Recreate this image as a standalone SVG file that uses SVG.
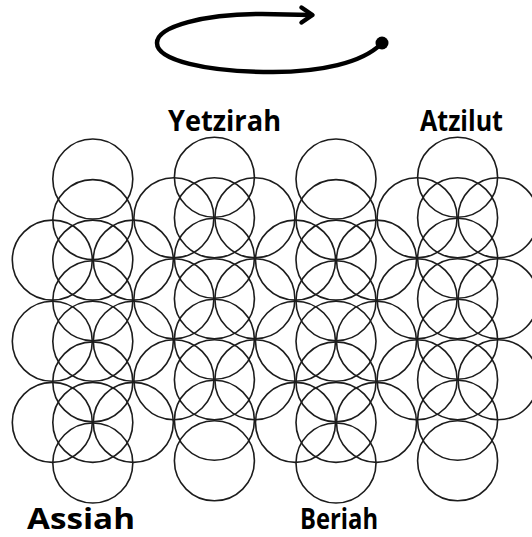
<svg xmlns="http://www.w3.org/2000/svg" width="532" height="537" viewBox="0 0 532 537">
<style>
.c{fill:none;stroke:#1c1c1c;stroke-width:1.6}
.lbl{font-family:"Open Sans","Liberation Sans",sans-serif;font-weight:bold;font-size:28px;fill:#000}
.rot{fill:none;stroke:#000;stroke-width:4.5;stroke-linecap:round;stroke-linejoin:round}
</style>
<rect width="532" height="537" fill="#fff"/>
<g id="rotation">
<path class="rot" d="M381,44 C362,63 320,72 273,72 C205,72 157,60 157,43 C157,26 205,14 262,14 L311,15"/>
<polyline class="rot" points="301.5,7.5 312.5,15 301.5,22.5"/>
<circle cx="382" cy="43" r="6.5" fill="#000"/>
</g>
<g id="assiah">
<circle class="c" cx="92.8" cy="179" r="40"/>
<circle class="c" cx="92.8" cy="219.6" r="40"/>
<circle class="c" cx="92.8" cy="260.1" r="40"/>
<circle class="c" cx="92.8" cy="300.7" r="40"/>
<circle class="c" cx="92.8" cy="341.3" r="40"/>
<circle class="c" cx="92.8" cy="381.9" r="40"/>
<circle class="c" cx="92.8" cy="422.4" r="40"/>
<circle class="c" cx="92.8" cy="463" r="40"/>
<circle class="c" cx="52.3" cy="260.1" r="40"/>
<circle class="c" cx="52.3" cy="341.3" r="40"/>
<circle class="c" cx="52.3" cy="422.4" r="40"/>
<circle class="c" cx="133.3" cy="260.1" r="40"/>
<circle class="c" cx="133.3" cy="341.3" r="40"/>
<circle class="c" cx="133.3" cy="422.4" r="40"/>
<text class="lbl" x="27" y="529" textLength="108" lengthAdjust="spacingAndGlyphs">Assiah</text>
</g>
<g id="yetzirah">
<circle class="c" cx="214.4" cy="177.2" r="40"/>
<circle class="c" cx="214.4" cy="217.7" r="40"/>
<circle class="c" cx="214.4" cy="258.2" r="40"/>
<circle class="c" cx="214.4" cy="298.7" r="40"/>
<circle class="c" cx="214.4" cy="339.2" r="40"/>
<circle class="c" cx="214.4" cy="379.7" r="40"/>
<circle class="c" cx="214.4" cy="420.2" r="40"/>
<circle class="c" cx="214.4" cy="460.8" r="40"/>
<circle class="c" cx="173.9" cy="217.7" r="40"/>
<circle class="c" cx="173.9" cy="298.7" r="40"/>
<circle class="c" cx="173.9" cy="379.7" r="40"/>
<circle class="c" cx="254.9" cy="217.7" r="40"/>
<circle class="c" cx="254.9" cy="298.7" r="40"/>
<circle class="c" cx="254.9" cy="379.7" r="40"/>
<text class="lbl" x="168" y="131" textLength="113" lengthAdjust="spacingAndGlyphs">Yetzirah</text>
</g>
<g id="beriah">
<circle class="c" cx="336" cy="179" r="40"/>
<circle class="c" cx="336" cy="219.6" r="40"/>
<circle class="c" cx="336" cy="260.1" r="40"/>
<circle class="c" cx="336" cy="300.7" r="40"/>
<circle class="c" cx="336" cy="341.3" r="40"/>
<circle class="c" cx="336" cy="381.9" r="40"/>
<circle class="c" cx="336" cy="422.4" r="40"/>
<circle class="c" cx="336" cy="463" r="40"/>
<circle class="c" cx="295.5" cy="260.1" r="40"/>
<circle class="c" cx="295.5" cy="341.3" r="40"/>
<circle class="c" cx="295.5" cy="422.4" r="40"/>
<circle class="c" cx="376.5" cy="260.1" r="40"/>
<circle class="c" cx="376.5" cy="341.3" r="40"/>
<circle class="c" cx="376.5" cy="422.4" r="40"/>
<text class="lbl" x="300" y="529" textLength="78" lengthAdjust="spacingAndGlyphs">Beriah</text>
</g>
<g id="atzilut">
<circle class="c" cx="457.6" cy="177.2" r="40"/>
<circle class="c" cx="457.6" cy="217.7" r="40"/>
<circle class="c" cx="457.6" cy="258.2" r="40"/>
<circle class="c" cx="457.6" cy="298.7" r="40"/>
<circle class="c" cx="457.6" cy="339.2" r="40"/>
<circle class="c" cx="457.6" cy="379.7" r="40"/>
<circle class="c" cx="457.6" cy="420.2" r="40"/>
<circle class="c" cx="457.6" cy="460.8" r="40"/>
<circle class="c" cx="417.1" cy="217.7" r="40"/>
<circle class="c" cx="417.1" cy="298.7" r="40"/>
<circle class="c" cx="417.1" cy="379.7" r="40"/>
<circle class="c" cx="498.1" cy="217.7" r="40"/>
<circle class="c" cx="498.1" cy="298.7" r="40"/>
<circle class="c" cx="498.1" cy="379.7" r="40"/>
<text class="lbl" x="420" y="131" textLength="83" lengthAdjust="spacingAndGlyphs">Atzilut</text>
</g>
</svg>
